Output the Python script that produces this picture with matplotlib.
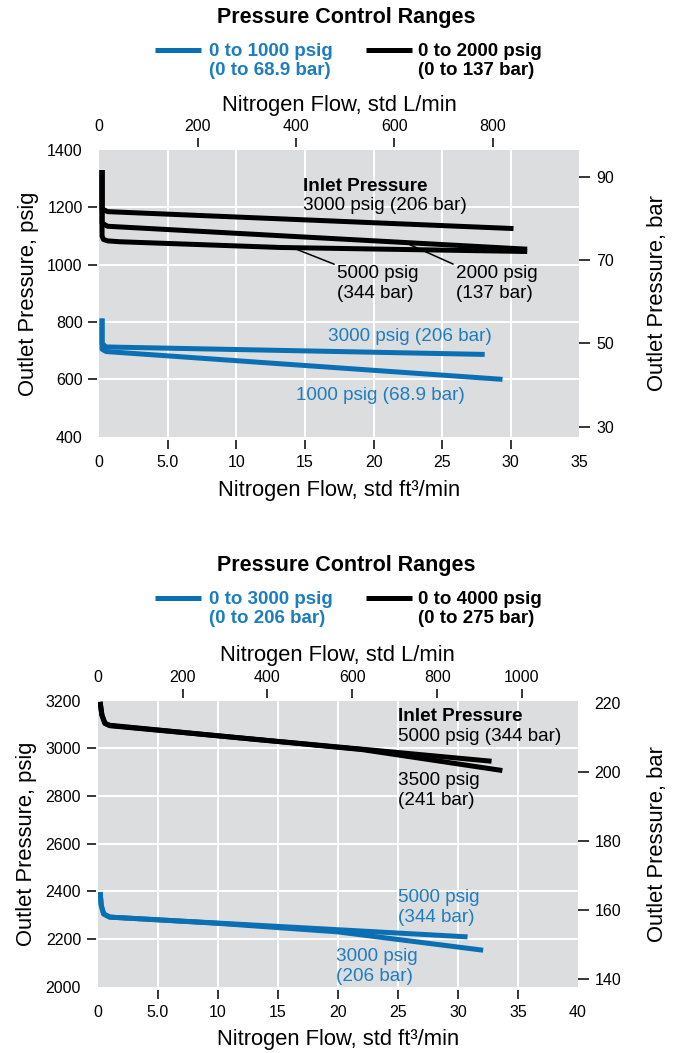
import matplotlib.pyplot as plt
from matplotlib.lines import Line2D
from matplotlib.transforms import blended_transform_factory

plt.rcParams['font.family'] = ['Liberation Sans', 'DejaVu Sans']

BLUE = '#0B6FB3'
BLUE_TEXT = '#1D7DC1'
GRAY = '#DCDDDF'
PSI_PER_BAR = 14.5038

# ---------------- top chart: 0-1000 / 0-2000 psig ----------------
top_xticks = [0, 5, 10, 15, 20, 25, 30, 35]
top_xticklabels = ['0', '5.0', '10', '15', '20', '25', '30', '35']
top_yticks = [400, 600, 800, 1000, 1200, 1400]
top_lpm_ticks = [0, 200, 400, 600, 800]
top_bar_ticks = [30, 50, 70, 90]
top_lpm_per_cfm = 27.9   # scale as drawn on the original

# black, 0 to 2000 psig regulator
blk_3000_x = [0.2, 0.2, 0.6, 30.2]
blk_3000_y = [1330, 1195, 1185, 1126]
blk_2000_x = [0.2, 0.2, 0.6, 31.2]
blk_2000_y = [1330, 1145, 1134, 1054]
blk_5000_x = [0.2, 0.2, 0.3, 0.6, 1.5, 13.2, 31.2]
blk_5000_y = [1330, 1100, 1088, 1083, 1080, 1060, 1046]

# blue, 0 to 1000 psig regulator
blu_3000_x = [0.2, 0.2, 0.5, 28.1]
blu_3000_y = [812, 725, 713, 687]
blu_1000_x = [0.2, 0.2, 0.5, 29.4]
blu_1000_y = [812, 705, 697, 600]

# ---------------- bottom chart: 0-3000 / 0-4000 psig ----------------
bot_xticks = [0, 5, 10, 15, 20, 25, 30, 35, 40]
bot_xticklabels = ['0', '5.0', '10', '15', '20', '25', '30', '35', '40']
bot_yticks = [2000, 2200, 2400, 2600, 2800, 3000, 3200]
bot_lpm_ticks = [0, 200, 400, 600, 800, 1000]
bot_bar_ticks = [140, 160, 180, 200, 220]
bot_lpm_per_cfm = 28.3

# black, 0 to 4000 psig regulator
blk2_5000_x = [0.2, 0.35, 0.6, 1.0, 32.8]
blk2_5000_y = [3195, 3140, 3105, 3095, 2946]
blk2_3500_x = [0.2, 0.35, 0.6, 1.0, 12.0, 22.0, 33.7]
blk2_3500_y = [3195, 3140, 3105, 3097, 3043, 2995, 2907]

# blue, 0 to 3000 psig regulator
blu2_5000_x = [0.2, 0.3, 0.5, 1.0, 30.8]
blu2_5000_y = [2397, 2340, 2305, 2292, 2209]
blu2_3000_x = [0.2, 0.3, 0.5, 1.0, 10.0, 20.0, 32.1]
blu2_3000_y = [2397, 2340, 2305, 2292, 2266, 2230, 2153]


W, H = 682, 1053
fig = plt.figure(figsize=(W / 100, H / 100), dpi=100)


def px_axes(left, top, right, bottom):
    return fig.add_axes([left / W, 1 - bottom / H, (right - left) / W, (bottom - top) / H])


def hide_ticks(axis, idx):
    ticks = axis.get_major_ticks()
    for i in idx:
        ticks[i].tick1line.set_visible(False)
        ticks[i].tick2line.set_visible(False)
        ticks[i].gridline.set_visible(False)


def setup(ax, xticks, xlabels, yticks, xmax, ylim, lpm_k, lpm_ticks, bar_ticks):
    ax.set_facecolor(GRAY)
    for s in ax.spines.values():
        s.set_visible(False)
    ax.spines['left'].set_position(('outward', 1.5))
    ax.spines['bottom'].set_position(('outward', 2.5))
    ax.set_xlim(0, xmax)
    ax.set_ylim(*ylim)
    ax.set_xticks(xticks, xlabels)
    ax.set_yticks(yticks, [str(v) for v in yticks])
    ax.tick_params(direction='out', length=6.5, width=1.1, labelsize=11.5, pad=4)
    ax.grid(True, color='white', lw=1.4)
    ax.set_axisbelow(True)
    hide_ticks(ax.xaxis, [0, -1])
    hide_ticks(ax.yaxis, [0, -1])
    ax.set_xlabel('Nitrogen Flow, std ft³/min', fontsize=15.8)
    ax.xaxis.set_label_coords(0.5, -0.186)
    ax.xaxis.label.set_va('center')
    ax.set_ylabel('Outlet Pressure, psig', fontsize=15.8)
    ax.yaxis.set_label_coords(-0.1485, 0.5)
    ax.yaxis.label.set_va('center')

    top = ax.secondary_xaxis('top', functions=(lambda x: x * lpm_k, lambda x: x / lpm_k))
    top.set_xticks(lpm_ticks, [str(v) for v in lpm_ticks])
    top.tick_params(direction='out', length=6.5, width=1.1, labelsize=11.5, pad=3)
    for s in top.spines.values():
        s.set_visible(False)
    top.spines['top'].set_position(('outward', 2))
    hide_ticks(top.xaxis, [0])
    top.set_xlabel('Nitrogen Flow, std L/min', fontsize=15.8, labelpad=6)

    right = ax.secondary_yaxis('right', functions=(lambda p: p / PSI_PER_BAR, lambda b: b * PSI_PER_BAR))
    right.set_yticks(bar_ticks, [str(v) for v in bar_ticks])
    right.tick_params(direction='out', length=8, width=1.1, labelsize=11.5, pad=4)
    for s in right.spines.values():
        s.set_visible(False)
    right.set_ylabel('Outlet Pressure, bar', fontsize=15.8)
    right.yaxis.set_label_coords(657 / W, 0.5,
                                 transform=blended_transform_factory(fig.transFigure, ax.transAxes))
    right.yaxis.label.set_va('center')
    return top, right


def legend(y_line, left_text, right_text):
    yf = 1 - y_line / H
    yt = 1 - (y_line + 11) / H
    fig.add_artist(Line2D([155 / W, 201 / W], [yf, yf], color=BLUE, lw=3.6,
                          solid_capstyle='butt', transform=fig.transFigure))
    fig.add_artist(Line2D([366 / W, 412 / W], [yf, yf], color='black', lw=3.6,
                          solid_capstyle='butt', transform=fig.transFigure))
    fig.text(209 / W, yt, left_text, color=BLUE_TEXT, fontsize=13.5, fontweight='bold',
             ha='left', va='center', linespacing=1.2)
    fig.text(418 / W, yt, right_text, color='black', fontsize=13.5, fontweight='bold',
             ha='left', va='center', linespacing=1.2)


line_kw = dict(lw=3.6, solid_capstyle='butt', solid_joinstyle='round')
note = 13.6

# ================= top chart =================
fig.text(346 / W, 1 - 17 / H, 'Pressure Control Ranges', fontsize=15.5, fontweight='bold',
         ha='center', va='center')
legend(50, '0 to 1000 psig\n(0 to 68.9 bar)', '0 to 2000 psig\n(0 to 137 bar)')

ax1 = px_axes(99.3, 150, 579.3, 436.7)
top1, right1 = setup(ax1, top_xticks, top_xticklabels, top_yticks, 35, (400, 1400),
                     top_lpm_per_cfm, top_lpm_ticks, top_bar_ticks)

ax1.plot(blk_3000_x, blk_3000_y, color='black', **line_kw)
ax1.plot(blk_2000_x, blk_2000_y, color='black', **line_kw)
ax1.plot(blk_5000_x, blk_5000_y, color='black', **line_kw)
ax1.plot(blu_3000_x, blu_3000_y, color=BLUE, **line_kw)
ax1.plot(blu_1000_x, blu_1000_y, color=BLUE, **line_kw)

ax1.text(14.84, 1274, 'Inlet Pressure', fontsize=note, fontweight='bold', va='center')
ax1.text(14.84, 1208, '3000 psig (206 bar)', fontsize=note, va='center')
lead = dict(arrowstyle='-', lw=1.1, color='black', shrinkA=0, shrinkB=0, relpos=(0, 1))
ax1.annotate('5000 psig\n(344 bar)', xy=(14.1, 1059), xytext=(17.33, 934), fontsize=note,
             va='center', ha='left', arrowprops=lead)
ax1.annotate('2000 psig\n(137 bar)', xy=(22.3, 1077), xytext=(26.0, 934), fontsize=note,
             va='center', ha='left', arrowprops=lead)
ax1.text(16.66, 748, '3000 psig (206 bar)', fontsize=note, color=BLUE_TEXT, va='center')
ax1.text(14.34, 545, '1000 psig (68.9 bar)', fontsize=note, color=BLUE_TEXT, va='center')

# ================= bottom chart =================
fig.text(346 / W, 1 - 565 / H, 'Pressure Control Ranges', fontsize=15.5, fontweight='bold',
         ha='center', va='center')
legend(598, '0 to 3000 psig\n(0 to 206 bar)', '0 to 4000 psig\n(0 to 275 bar)')

ax2 = px_axes(97.7, 700.7, 578.0, 986.7)
top2, right2 = setup(ax2, bot_xticks, bot_xticklabels, bot_yticks, 40, (2000, 3200),
                     bot_lpm_per_cfm, bot_lpm_ticks, bot_bar_ticks)
hide_ticks(right2.yaxis, [-1])

ax2.plot(blk2_5000_x, blk2_5000_y, color='black', **line_kw)
ax2.plot(blk2_3500_x, blk2_3500_y, color='black', **line_kw)
ax2.plot(blu2_5000_x, blu2_5000_y, color=BLUE, **line_kw)
ax2.plot(blu2_3000_x, blu2_3000_y, color=BLUE, **line_kw)

ax2.text(25.0, 3133, 'Inlet Pressure', fontsize=note, fontweight='bold', va='center')
ax2.text(25.0, 3050, '5000 psig (344 bar)', fontsize=note, va='center')
ax2.text(25.0, 2824, '3500 psig\n(241 bar)', fontsize=note, va='center')
ax2.text(25.0, 2333, '5000 psig\n(344 bar)', fontsize=note, color=BLUE_TEXT, va='center')
ax2.text(19.86, 2084, '3000 psig\n(206 bar)', fontsize=note, color=BLUE_TEXT, va='center')

fig.savefig('out.png', dpi=100)
